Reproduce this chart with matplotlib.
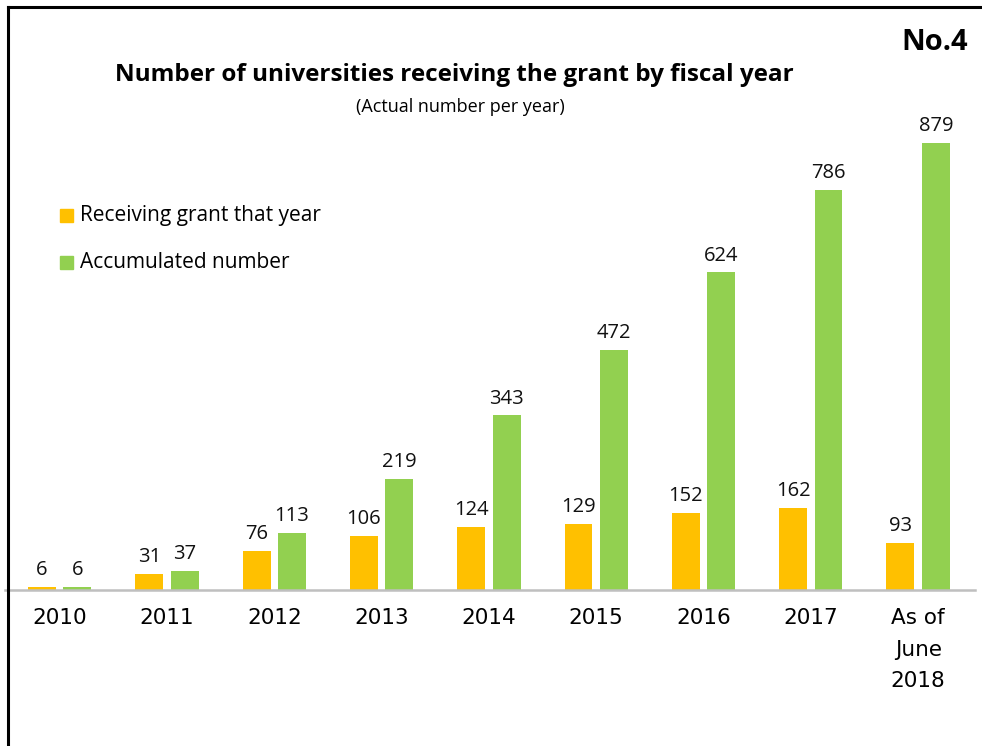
import numpy as np
import matplotlib.pyplot as plt
from matplotlib.lines import Line2D
from matplotlib.patches import Rectangle

years = ['2010', '2011', '2012', '2013', '2014', '2015', '2016', '2017', 'As of\nJune\n2018']
that_year = [6, 31, 76, 106, 124, 129, 152, 162, 93]
accumulated = [6, 37, 113, 219, 343, 472, 624, 786, 879]

orange = '#FFC000'
green = '#92D050'
W, H = 982, 746

fig = plt.figure(figsize=(W / 100, H / 100), dpi=100)
ax = fig.add_axes([5 / W, (H - 590) / H, 970 / W, 490 / H])

x = np.arange(len(years))
bw = 0.26
gap = 0.07
ax.bar(x - (bw + gap) / 2, that_year, bw, color=orange)
ax.bar(x + (bw + gap) / 2, accumulated, bw, color=green)

num_font = dict(fontsize=14.5, family=['Open Sans', 'DejaVu Sans'], color='#111111')
for xi, v in zip(x, that_year):
    ax.annotate(str(v), (xi - (bw + gap) / 2, v), xytext=(0, 5), textcoords='offset points',
                ha='center', va='bottom', **num_font)
for xi, v in zip(x, accumulated):
    ax.annotate(str(v), (xi + (bw + gap) / 2, v), xytext=(0, 5), textcoords='offset points',
                ha='center', va='bottom', **num_font)

ax.set_xlim(-0.51, 8.53)
ax.set_ylim(0, 963)
ax.set_xticks(x)
ax.set_xticklabels(years, fontsize=15.5, family='DejaVu Sans',
                   linespacing=1.72, va='top')
ax.tick_params(axis='x', length=0, pad=13)
ax.set_yticks([])
for s in ['top', 'right', 'left']:
    ax.spines[s].set_visible(False)
ax.spines['bottom'].set_color('#BFBFBF')
ax.spines['bottom'].set_linewidth(1.8)

# title / subtitle / page number
fig.text(454 / W, 1 - 75 / H, 'Number of universities receiving the grant by fiscal year',
         ha='center', va='center', fontsize=17.5, fontweight='bold', family=['Open Sans', 'DejaVu Sans'])
fig.text(460 / W, 1 - 107 / H, '(Actual number per year)', ha='center', va='center',
         fontsize=13, family=['Open Sans', 'DejaVu Sans'])
fig.text(968 / W, 1 - 42 / H, 'No.4', ha='right', va='center', fontsize=21,
         fontweight='bold', family=['Open Sans', 'DejaVu Sans'])

# legend drawn by hand
for yy, col, lab in [(215, orange, 'Receiving grant that year'), (262, green, 'Accumulated number')]:
    fig.add_artist(Rectangle((60 / W, 1 - (yy + 7) / H), 13 / W, 13 / H, color=col,
                             transform=fig.transFigure))
    fig.text(80 / W, 1 - yy / H, lab, ha='left', va='center', fontsize=15,
             family=['Open Sans', 'DejaVu Sans'])

# slide frame (top and left edges)
fig.add_artist(Line2D([8 / W, 8 / W], [0, 1 - 7 / H], color='black', lw=2.2, transform=fig.transFigure))
fig.add_artist(Line2D([8 / W, 1], [1 - 7 / H, 1 - 7 / H], color='black', lw=2.2, transform=fig.transFigure))

fig.savefig('out.png', dpi=100)
